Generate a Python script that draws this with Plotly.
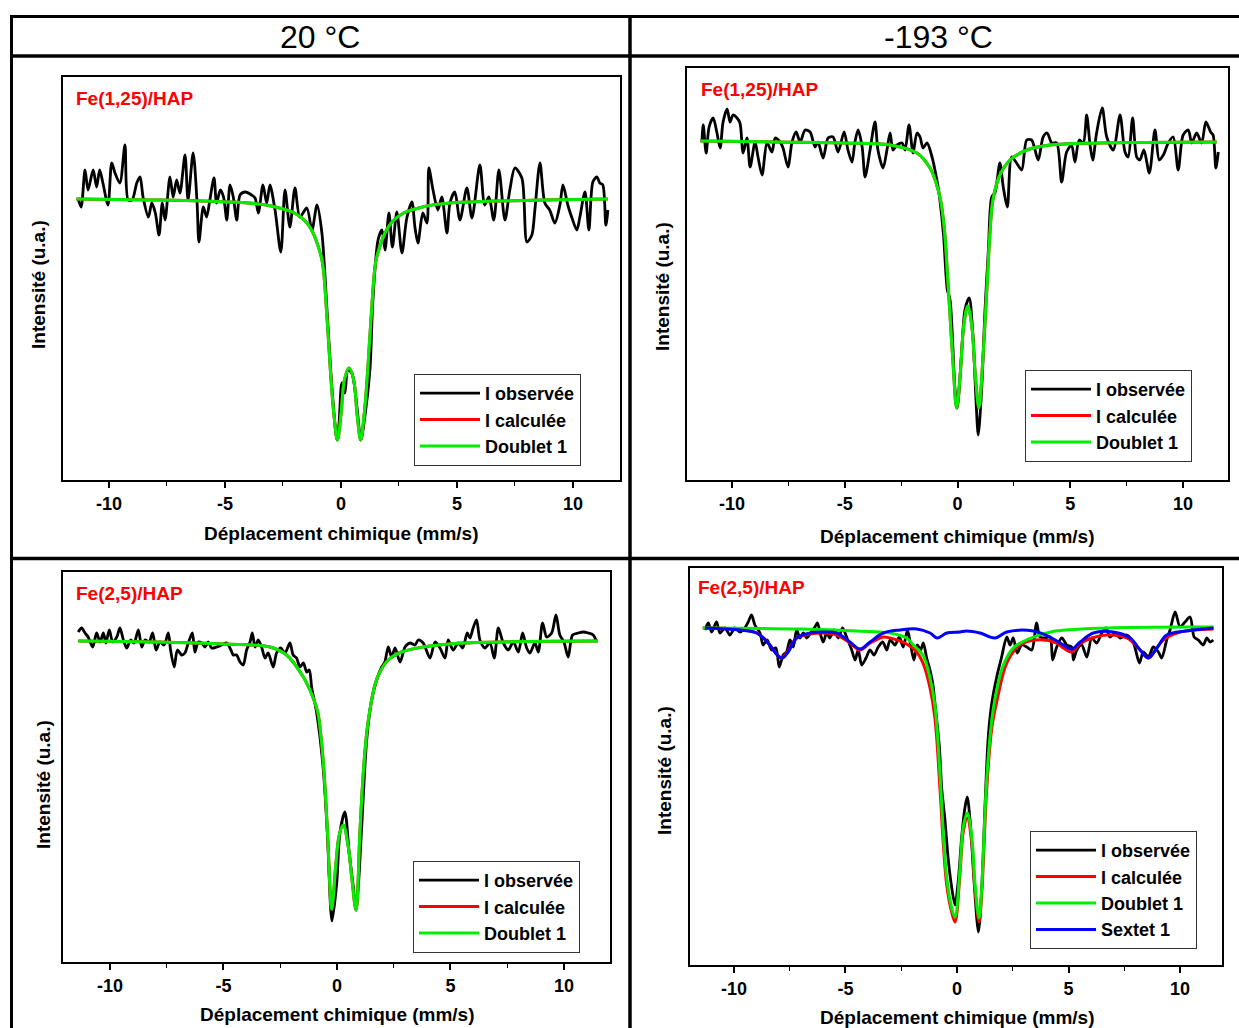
import plotly.graph_objects as go

W, H = 1239, 1028
FONT = "Arial, 'Liberation Sans', sans-serif"

# ---------------- data (velocity in mm/s, intensity in arbitrary units) ----------------
# Panel 1 : Fe(1,25)/HAP at 20 °C
V_OBS_TL = [-11.34,-11.2,-11.03,-10.9,-10.68,-10.53,-10.4,-10.26,-10.04,-9.88,-9.74,-9.53,-9.31,-9.17,-9.0,-8.8,-8.66,-8.53,-8.3,-8.15,-8.0,-7.84,-7.7,-7.58,-7.37,-7.23,-7.08,-6.94,-6.72,-6.59,-6.37,-6.2,-6.12,-5.93,-5.79,-5.65,-5.47,-5.36,-5.2,-5.06,-4.92,-4.78,-4.64,-4.49,-4.35,-4.13,-3.85,-3.7,-3.56,-3.36,-3.2,-3.06,-2.84,-2.59,-2.41,-2.2,-1.98,-1.77,-1.47,-1.25,-1.03,-0.82,-0.6,-0.39,-0.17,-0.08,0.04,0.17,0.3,0.47,0.69,0.86,1.03,1.25,1.38,1.6,1.77,1.9,2.07,2.22,2.41,2.63,2.84,3.06,3.19,3.32,3.53,3.71,3.79,3.97,4.18,4.35,4.57,4.7,4.91,5.13,5.43,5.65,5.99,6.2,6.38,6.59,6.81,7.07,7.28,7.5,7.8,8.02,8.23,8.36,8.58,8.79,9.0,9.22,9.44,9.57,9.78,9.96,10.17,10.3,10.52,10.69,10.86,11.03,11.16,11.29,11.42,11.51]
I_OBS_TL = [1001,992,1029,1009,1029,1012,1029,1016,994,1036,1026,1016,1054,999,999,1016,1022,1002,982,996,986,964,996,979,1022,1002,1019,1006,1044,999,1046,996,957,992,982,999,1021,996,1009,1002,979,1014,1002,979,1004,1007,1004,1001,986,1014,996,1014,989,947,1009,972,1011,982,991,969,994,966,889,812,759,776,816,806,829,826,792,759,782,829,899,959,969,949,986,952,987,946,981,997,972,956,986,976,1031,1009,989,1002,966,996,1007,979,1011,981,1034,994,1002,979,1029,979,1009,1031,1021,957,964,989,1036,996,989,976,994,1014,994,981,969,982,1007,969,1017,1022,1016,1014,974,989]
V_FIT_TL = [-11.4,-8,-6,-4,-3,-2.5,-2,-1.5,-1.2,-1.0,-0.8,-0.6,-0.45,-0.3,-0.15,0.0,0.15,0.35,0.55,0.7,0.85,1.0,1.15,1.3,1.5,1.7,1.9,2.2,2.7,3.2,3.7,4.7,6.7,8.7,11.5]
I_DOUBLET_TL = [1000,999,998,996,993,990,986,977,966,954,937,881,827,784,759,784,819,831,819,784,759,784,827,881,937,954,966,977,986,990,993,996,998,999,1000]
I_CALC_TL = [1000,999,998,996,993,990,986,977,966,954,937,881,827,784,759,784,819,831,819,784,759,784,827,881,937,954,966,977,986,990,993,996,998,999,1000]

# Panel 2 : Fe(1,25)/HAP at -193 °C
V_OBS_TR = [-11.34,-11.28,-11.15,-11.02,-10.84,-10.67,-10.53,-10.4,-10.22,-10.09,-9.96,-9.78,-9.65,-9.51,-9.34,-9.2,-8.98,-8.85,-8.67,-8.45,-8.23,-8.09,-7.87,-7.74,-7.52,-7.34,-7.16,-6.98,-6.76,-6.54,-6.32,-6.19,-5.96,-5.74,-5.52,-5.3,-5.03,-4.86,-4.68,-4.55,-4.41,-4.23,-4.1,-3.88,-3.66,-3.53,-3.3,-3.13,-2.99,-2.86,-2.68,-2.46,-2.33,-2.15,-1.97,-1.8,-1.66,-1.53,-1.35,-1.13,-1.0,-0.86,-0.78,-0.62,-0.45,-0.33,-0.11,-0.01,0.19,0.33,0.52,0.67,0.82,0.92,1.07,1.22,1.37,1.52,1.66,1.88,2.03,2.21,2.4,2.62,2.85,3.07,3.29,3.58,3.8,3.98,4.18,4.4,4.62,4.84,5.06,5.21,5.4,5.58,5.73,5.88,6.0,6.17,6.42,6.62,6.91,7.21,7.43,7.57,7.77,7.95,8.09,8.27,8.51,8.76,8.95,9.13,9.35,9.57,9.79,10.01,10.24,10.39,10.61,10.83,11.02,11.23,11.34,11.46,11.57]
I_OBS_TR = [999,1016,988,1014,1023,1008,993,1019,1032,1019,1026,1023,1018,988,1003,974,999,984,966,998,989,1003,999,993,974,999,1009,999,1011,1009,994,999,983,1003,1004,989,1009,991,979,999,1011,994,964,991,1019,991,973,991,1008,991,996,998,991,1016,988,1008,1004,993,998,984,971,954,941,906,851,841,751,733,791,831,843,811,741,706,751,831,891,944,948,978,954,934,984,978,971,1001,1001,981,1004,1008,998,998,959,989,996,979,1001,998,1026,996,981,1008,1033,1004,991,1026,989,984,1023,984,981,991,968,1011,981,986,998,1004,971,1006,1011,998,1008,998,1019,1009,1006,973,989]
V_FIT_TR = [-11.4,-8,-5,-3,-1.8,-1.22,-0.95,-0.75,-0.58,-0.45,-0.33,-0.19,-0.04,0.12,0.28,0.455,0.63,0.79,0.95,1.13,1.3,1.44,1.57,1.88,2.33,3.08,4.1,6.3,11.5]
I_DOUBLET_TR = [1000,999,998,996,988,973,958,941,911,868,825,775,733,766,816,835,816,766,733,784,851,908,941,966,981,991,996,998,999]
I_CALC_TR = [1000,999,998,996,988,973,958,941,911,868,825,775,733,766,816,835,816,766,733,784,851,908,941,966,981,991,996,998,999]

# Panel 3 : Fe(2,5)/HAP at 20 °C
V_OBS_BL = [-11.4,-11.25,-11.1,-10.96,-10.76,-10.59,-10.44,-10.29,-10.18,-10.03,-9.88,-9.7,-9.56,-9.41,-9.26,-9.09,-8.94,-8.75,-8.6,-8.46,-8.28,-8.12,-7.97,-7.8,-7.62,-7.43,-7.33,-7.17,-7.03,-6.84,-6.7,-6.55,-6.37,-6.26,-6.11,-5.96,-5.81,-5.67,-5.52,-5.3,-5.08,-4.86,-4.67,-4.57,-4.42,-4.27,-4.13,-3.98,-3.83,-3.73,-3.61,-3.47,-3.32,-3.17,-3.03,-2.81,-2.66,-2.48,-2.29,-2.07,-1.93,-1.78,-1.63,-1.48,-1.33,-1.22,-1.11,-0.9,-0.6,-0.42,-0.22,-0.01,0.13,0.35,0.54,0.72,0.84,0.94,1.09,1.31,1.53,1.75,1.97,2.11,2.26,2.41,2.56,2.78,3.0,3.22,3.44,3.58,3.8,4.1,4.32,4.54,4.76,4.9,5.12,5.34,5.54,5.74,5.86,6.0,6.15,6.3,6.52,6.74,6.93,7.11,7.33,7.55,7.77,7.99,8.18,8.36,8.5,8.72,8.87,9.06,9.24,9.46,9.65,9.82,10.0,10.19,10.38,10.63,10.85,11.07,11.29,11.44]
I_OBS_BL = [1009,1013,1008,1004,994,1008,999,1008,998,1011,999,1004,1013,1001,993,1001,998,1011,994,1001,999,1008,991,999,996,1008,991,974,991,986,988,998,1008,989,999,998,994,999,993,994,996,998,991,986,986,979,976,991,999,1008,994,1001,994,983,988,974,988,993,988,998,986,983,974,978,969,971,953,929,871,806,720,758,808,829,788,754,731,754,814,901,941,961,974,979,994,984,993,979,994,998,996,1001,998,983,999,993,983,1001,991,998,993,1008,1003,1013,1021,1001,993,998,983,1013,998,991,999,989,1008,993,988,998,989,1018,1004,1008,1026,1006,999,984,1006,1008,1009,1008,1006,999]
V_FIT_BL = [-11.4,-8,-5,-2.95,-2.22,-1.48,-1.19,-0.85,-0.71,-0.56,-0.41,-0.23,-0.05,0.1,0.28,0.5,0.65,0.84,1.01,1.16,1.31,1.45,1.67,1.89,2.26,2.85,3.8,5.55,11.5]
I_DOUBLET_BL = [1000,999,997,994,986,964,951,929,906,866,806,732,776,806,816,794,764,731,808,868,908,931,956,969,981,989,994,998,1000]
I_CALC_BL = [1000,999,997,994,986,964,951,929,906,866,806,732,776,806,816,794,764,731,808,868,908,931,956,969,981,989,994,998,1000]

# Panel 4 : Fe(2,5)/HAP at -193 °C
V_OBS_BR = [-11.3,-11.15,-11.0,-10.78,-10.63,-10.4,-10.18,-9.96,-9.73,-9.51,-9.36,-9.21,-9.06,-8.83,-8.69,-8.51,-8.31,-8.12,-7.97,-7.79,-7.64,-7.49,-7.34,-7.19,-7.04,-6.89,-6.74,-6.56,-6.37,-6.26,-6.11,-6.0,-5.84,-5.7,-5.52,-5.32,-5.13,-4.95,-4.72,-4.57,-4.43,-4.27,-4.08,-3.9,-3.72,-3.53,-3.33,-3.15,-3.0,-2.78,-2.59,-2.41,-2.22,-2.08,-1.93,-1.78,-1.63,-1.51,-1.36,-1.21,-1.09,-0.99,-0.79,-0.69,-0.54,-0.39,-0.24,-0.09,0.06,0.21,0.36,0.46,0.61,0.76,0.96,1.11,1.26,1.4,1.56,1.78,2.0,2.23,2.38,2.52,2.7,2.9,3.13,3.35,3.57,3.72,3.95,4.17,4.29,4.47,4.7,4.92,5.14,5.22,5.37,5.59,5.82,6.04,6.26,6.49,6.68,6.86,7.09,7.31,7.61,7.91,8.18,8.35,8.58,8.8,9.03,9.18,9.4,9.55,9.78,10.0,10.22,10.45,10.63,10.82,11.04,11.2,11.35,11.49]
I_OBS_BR = [998,1005,996,1006,995,1000,993,1000,996,1000,1006,1013,1003,995,983,988,978,980,961,973,976,988,981,998,990,995,990,995,1001,1005,993,986,995,990,998,990,1000,991,978,968,978,963,970,978,973,981,986,978,988,983,991,981,998,983,968,983,978,985,970,958,945,925,881,841,808,768,741,723,748,791,821,831,801,748,696,741,825,891,925,951,971,991,983,990,975,983,981,978,1005,991,990,991,968,981,990,983,981,968,978,983,971,990,985,995,1000,991,995,990,993,985,965,976,971,981,976,970,988,998,1016,1001,1006,1011,991,988,983,990,986,988]
V_CALC_BR = [-11.4,-8.98,-8.39,-8.06,-7.88,-7.6,-7.19,-6.59,-6.0,-5.39,-4.8,-4.35,-3.9,-3.3,-3.0,-2.26,-1.81,-1.51,-1.21,-0.99,-0.76,-0.61,-0.46,-0.24,-0.09,0.13,0.28,0.46,0.66,0.81,0.99,1.11,1.18,1.33,1.56,1.8,2.23,2.82,3.57,4.47,4.77,5.14,5.5,5.81,6.71,7.61,8.21,8.58,8.96,9.25,10.0,11.5]
I_CALC_BR = [1000,995,983,973,970,976,990,994,995,993,985,978,985,991,990,984,976,964,940,910,838,783,743,716,706,753,796,810,786,738,706,735,766,838,900,928,965,983,988,985,980,976,984,988,993,990,978,970,980,988,996,999]
V_DOUBLET_BR = [-11.4,-7,-4.5,-3.0,-2.26,-1.96,-1.51,-1.21,-0.99,-0.76,-0.61,-0.46,-0.24,-0.09,0.13,0.28,0.46,0.66,0.81,0.99,1.11,1.18,1.33,1.56,1.78,2.08,2.52,3.2,4.2,6.7,11.5]
I_DOUBLET_BR = [1000,999,997,995,990,983,972,950,923,853,793,750,720,711,758,801,815,791,743,710,741,775,848,908,938,963,980,989,996,1000,1001]
V_SEXTET_BR = [-11.3,-9.73,-8.98,-8.39,-8.06,-7.82,-7.57,-7.19,-6.59,-6.0,-5.39,-4.8,-4.35,-3.9,-3.3,-2.56,-1.81,-1.21,-0.88,-0.46,0.13,0.43,1.03,1.7,2.23,3.42,4.17,4.77,5.14,5.52,6.11,7.0,7.76,8.21,8.58,8.96,9.4,10.3,11.5]
I_SEXTET_BR = [1000,998,995,983,973,970,976,990,995,996,995,986,979,986,995,998,999,995,990,995,996,997,995,990,996,997,991,983,979,986,995,996,990,978,970,980,993,997,1000]

TICK_VALS = [-10, -5, 0, 5, 10]
TICK_TEXT = ["-10", "-5", "0", "5", "10"]
MINOR_VALS = [-7.5, -2.5, 2.5, 7.5]
HEADERS = ["20 °C", "-193 °C"]
SAMPLES = ["Fe(1,25)/HAP", "Fe(1,25)/HAP", "Fe(2,5)/HAP", "Fe(2,5)/HAP"]
LEGEND_NAMES = ["I observée", "I calculée", "Doublet 1", "Sextet 1"]

for a, b in [(V_OBS_TL, I_OBS_TL), (V_OBS_TR, I_OBS_TR), (V_OBS_BL, I_OBS_BL), (V_OBS_BR, I_OBS_BR),
             (V_FIT_TL, I_DOUBLET_TL), (V_FIT_TR, I_DOUBLET_TR), (V_FIT_BL, I_DOUBLET_BL),
             (V_CALC_BR, I_CALC_BR), (V_DOUBLET_BR, I_DOUBLET_BR), (V_SEXTET_BR, I_SEXTET_BR)]:
    assert len(a) == len(b), (len(a), len(b))

# ---------------- layout helpers (pixel positions of the original figure) ----------------
def fx(px):
    return px / W

def fy(py):
    return 1 - py / H

PANELS = [
    dict(obs=(V_OBS_TL, I_OBS_TL), calc=(V_FIT_TL, I_CALC_TL), dbl=(V_FIT_TL, I_DOUBLET_TL), sxt=None,
         frame=(63, 620, 77, 480), xr=(-11.98, 12.03), yr=(719, 1122),
         label=(74, 98), legend=(414, 374), xtitle=(341, 533), ytitle=(38, 285)),
    dict(obs=(V_OBS_TR, I_OBS_TR), calc=(V_FIT_TR, I_CALC_TR), dbl=(V_FIT_TR, I_DOUBLET_TR), sxt=None,
         frame=(687, 1228, 68, 480), xr=(-12.0, 12.0), yr=(661, 1073),
         label=(699, 89), legend=(1025, 370), xtitle=(957, 536), ytitle=(662, 287)),
    dict(obs=(V_OBS_BL, I_OBS_BL), calc=(V_FIT_BL, I_CALC_BL), dbl=(V_FIT_BL, I_DOUBLET_BL), sxt=None,
         frame=(63, 610, 572, 962), xr=(-12.07, 12.03), yr=(679, 1069),
         label=(74, 593), legend=(413, 861), xtitle=(337, 1014), ytitle=(43, 785)),
    dict(obs=(V_OBS_BR, I_OBS_BR), calc=(V_CALC_BR, I_CALC_BR), dbl=(V_DOUBLET_BR, I_DOUBLET_BR),
         sxt=(V_SEXTET_BR, I_SEXTET_BR),
         frame=(690, 1222, 568, 965), xr=(-11.97, 11.88), yr=(663, 1060),
         label=(696, 587), legend=(1030, 831), xtitle=(957, 1017), ytitle=(664, 771)),
]

fig = go.Figure()
layout = dict(
    width=W, height=H, margin=dict(l=0, r=0, t=0, b=0),
    paper_bgcolor="white", plot_bgcolor="white",
    font=dict(family=FONT, color="black"),
    shapes=[], annotations=[],
)

for i, p in enumerate(PANELS, start=1):
    xa = "x" if i == 1 else f"x{i}"
    ya = "y" if i == 1 else f"y{i}"
    leg = "legend" if i == 1 else f"legend{i}"
    series = [(p["obs"], LEGEND_NAMES[0], "black", 2.8, 0.8),
              (p["calc"], LEGEND_NAMES[1], "#ff0000", 3, 1.0),
              (p["dbl"], LEGEND_NAMES[2], "#00ee00", 3, 1.0)]
    if p["sxt"] is not None:
        series.append((p["sxt"], LEGEND_NAMES[3], "#0000ff", 3, 1.0))
    for (xs, ys), name, col, w, sm in series:
        fig.add_trace(go.Scatter(
            x=xs, y=ys, mode="lines", name=name, xaxis=xa, yaxis=ya, legend=leg,
            line=dict(color=col, width=w, shape="spline", smoothing=sm),
            hoverinfo="skip"))

    x0, x1, y0, y1 = p["frame"]
    axn = "" if i == 1 else str(i)
    layout["xaxis" + axn] = dict(
        domain=[fx(x0), fx(x1)], anchor=ya, range=list(p["xr"]),
        showline=True, mirror=True, linecolor="black", linewidth=2,
        ticks="outside", ticklen=6, tickwidth=1.5, tickcolor="black",
        tickmode="array", tickvals=TICK_VALS, ticktext=TICK_TEXT,
        tickfont=dict(family=FONT, size=18, color="black", weight="bold"),
        minor=dict(tickmode="array", tickvals=MINOR_VALS, ticks="outside",
                   ticklen=3.5, tickwidth=1.2, tickcolor="black"),
        showgrid=False, zeroline=False, fixedrange=True)
    layout["yaxis" + axn] = dict(
        domain=[fy(y1), fy(y0)], anchor=xa, range=list(p["yr"]),
        showline=True, mirror=True, linecolor="black", linewidth=2,
        showticklabels=False, ticks="", showgrid=False, zeroline=False, fixedrange=True)
    lx, ly = p["legend"]
    layout[leg] = dict(
        x=fx(lx), y=fy(ly), xanchor="left", yanchor="top",
        bgcolor="white", bordercolor="#333333", borderwidth=1,
        font=dict(family=FONT, size=18, color="black", weight="bold"),
        itemwidth=60, tracegroupgap=0)
    # sample label
    layout["annotations"].append(dict(
        x=fx(p["label"][0]), y=fy(p["label"][1]), xref="paper", yref="paper",
        xanchor="left", yanchor="middle", showarrow=False, text=SAMPLES[i - 1],
        font=dict(family=FONT, size=19, color="#ff0000", weight="bold")))
    # axis titles
    layout["annotations"].append(dict(
        x=fx(p["xtitle"][0]), y=fy(p["xtitle"][1]), xref="paper", yref="paper",
        xanchor="center", yanchor="middle", showarrow=False,
        text="Déplacement chimique (mm/s)",
        font=dict(family=FONT, size=19, color="black", weight="bold")))
    layout["annotations"].append(dict(
        x=fx(p["ytitle"][0]), y=fy(p["ytitle"][1]), xref="paper", yref="paper",
        xanchor="center", yanchor="middle", showarrow=False, textangle=-90,
        text="Intensité (u.a.)",
        font=dict(family=FONT, size=19, color="black", weight="bold")))

# column headers
for txt, cx in zip(HEADERS, [320, 938]):
    layout["annotations"].append(dict(
        x=fx(cx), y=fy(37), xref="paper", yref="paper", xanchor="center", yanchor="middle",
        showarrow=False, text=txt, font=dict(family=FONT, size=32, color="black")))

# table rules
def hline(py, px0, px1, w):
    return dict(type="line", xref="paper", yref="paper", x0=fx(px0), x1=fx(px1), y0=fy(py), y1=fy(py),
                line=dict(color="black", width=w))

def vline(px, py0, py1, w):
    return dict(type="line", xref="paper", yref="paper", x0=fx(px), x1=fx(px), y0=fy(py0), y1=fy(py1),
                line=dict(color="black", width=w))

layout["shapes"] = [
    hline(16.5, 10, 1239, 3),
    hline(56, 10, 1239, 3.5),
    hline(558.5, 10, 1239, 3.5),
    vline(11.5, 15, 1028, 3),
    vline(630, 15, 1028, 3.5),
]

fig.update_layout(**layout)
fig.write_html("out.html", include_plotlyjs=True, config={"displayModeBar": False},
               post_script="document.body.style.margin='0';document.body.style.overflow='hidden';")
